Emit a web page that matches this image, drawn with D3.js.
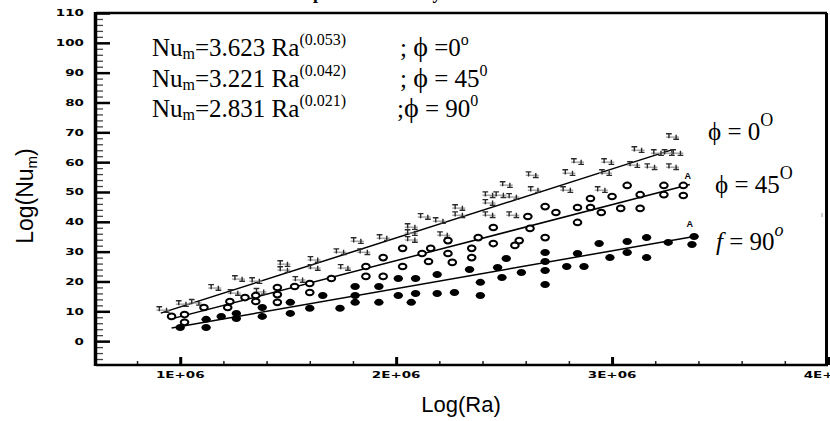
<!DOCTYPE html>
<html>
<head>
<meta charset="utf-8">
<script src="https://cdn.jsdelivr.net/npm/d3@7"></script>
<style>
  body { margin: 0; background: #fff; }
  svg { display: block; }
</style>
</head>
<body>
<div id="chart"></div>
<script>
// ********** Nu vs Ra scatter **********

// Ra values in millions, Nu values
const raPhi0 = [0.92, 1.01, 1.07, 1.16, 1.25, 1.27, 1.35, 1.37, 1.48, 1.48, 1.55, 1.62, 1.62, 1.74, 1.76, 1.82, 1.85, 1.94,
	2.07, 2.07, 2.07, 2.13, 2.20, 2.22, 2.29, 2.29, 2.43, 2.43, 2.43, 2.48, 2.51, 2.54, 2.54, 2.63, 2.64, 2.79, 2.80, 2.84,
	2.95, 2.97, 2.98, 3.10, 3.12, 3.18, 3.21, 3.26, 3.28, 3.28, 3.30];
const nuPhi0 = [10.6, 12.6, 13.0, 18.0, 16.3, 21.0, 20.3, 16.7, 26.0, 24.0, 20.7, 27.4, 24.7, 30.0, 24.7, 33.7, 30.0, 34.7,
	38.4, 36.4, 34.1, 41.8, 40.4, 35.7, 44.8, 42.4, 49.1, 46.5, 42.4, 49.1, 52.5, 48.5, 42.4, 55.8, 50.8, 50.8, 56.5, 60.2,
	50.8, 56.5, 60.2, 59.2, 64.2, 58.5, 63.2, 63.2, 68.6, 58.5, 63.2];

const raPhi45 = [0.96, 1.02, 1.02, 1.11, 1.22, 1.23, 1.30, 1.35, 1.35, 1.45, 1.45, 1.45, 1.53, 1.60, 1.60, 1.70, 1.86, 1.86,
	1.94, 1.94, 2.03, 2.03, 2.12, 2.15, 2.16, 2.24, 2.24, 2.26, 2.35, 2.35, 2.38, 2.45, 2.45, 2.55, 2.57, 2.61, 2.62, 2.69,
	2.69, 2.74, 2.84, 2.84, 2.90, 2.90, 2.95, 3.00, 3.04, 3.07, 3.13, 3.13, 3.24, 3.24, 3.33, 3.33];
const nuPhi45 = [8.3, 8.9, 6.3, 11.3, 11.3, 13.3, 14.6, 15.3, 13.3, 18.0, 15.6, 13.0, 18.3, 19.3, 16.3, 21.0, 25.0, 21.7,
	28.0, 21.7, 31.1, 25.0, 29.4, 26.7, 31.1, 29.4, 33.7, 26.4, 31.1, 28.0, 34.7, 38.1, 32.7, 32.1, 33.7, 41.8, 37.8, 45.1,
	34.7, 43.1, 44.8, 39.8, 47.8, 44.8, 43.1, 48.5, 44.5, 52.2, 49.1, 44.5, 52.2, 49.1, 52.2, 48.8];

const raPhi90 = [1.00, 1.12, 1.12, 1.19, 1.26, 1.26, 1.38, 1.38, 1.51, 1.51, 1.60, 1.66, 1.74, 1.81, 1.81, 1.81, 1.92, 1.92,
	2.01, 2.01, 2.09, 2.09, 2.07, 2.19, 2.19, 2.27, 2.34, 2.39, 2.39, 2.47, 2.49, 2.51, 2.58, 2.69, 2.69, 2.69, 2.69, 2.79,
	2.84, 2.87, 2.94, 2.99, 3.07, 3.07, 3.16, 3.16, 3.26, 3.38, 3.37];
const nuPhi90 = [4.6, 7.3, 4.6, 8.3, 9.3, 7.6, 11.3, 8.3, 13.0, 9.3, 11.0, 15.3, 11.0, 18.3, 15.3, 13.0, 18.3, 13.0,
	21.0, 15.3, 21.0, 16.0, 13.0, 22.3, 16.0, 16.3, 24.0, 19.7, 15.3, 24.7, 21.3, 27.7, 23.0, 29.7, 26.7, 23.7, 19.0, 25.0,
	29.4, 25.0, 32.7, 28.0, 33.4, 29.7, 34.7, 28.0, 33.1, 35.1, 32.4];

// Fitted lines: [start, end] per angle
const fitRa = [[0.91, 3.28], [0.95, 3.36], [0.96, 3.38]];
const fitNu = [[9.4, 64.2], [7.3, 52.5], [4.4, 35.1]];

// Small "A" markers next to the line ends
const markRa = [3.35, 3.36];
const markNu = [55.2, 39.4];

// Axis ticks
const xMajor = [1, 2, 3, 4];
const xLabels = ['1E+06', '2E+06', '3E+06', '4E+06'];
const yMajor = [0, 10, 20, 30, 40, 50, 60, 70, 80, 90, 100, 110];

// Equations and curve labels
const equations = [
	{ coef: '3.623', pow: '(0.053)', angle: '0', deg: 'o', gap: '=' },
	{ coef: '3.221', pow: '(0.042)', angle: '45', deg: '0', gap: '= ' },
	{ coef: '2.831', pow: '(0.021)', angle: '90', deg: '0', gap: '= ' }
];

const width = 830, height = 421;
const plot = { left: 96, right: 828, top: 13, bottom: 365 };
const serif = '"Liberation Serif", "Times New Roman", serif';
const sans = '"Liberation Sans", Arial, sans-serif';
const tickFont = '"DejaVu Sans", sans-serif';

const svg = d3.select('#chart')
	.append('svg')
	.attr('width', width)
	.attr('height', height);

const x = d3.scaleLinear().domain([0.61e6, 4.0e6]).range([plot.left, plot.right]);
const y = d3.scaleLinear().domain([-8, 110]).range([plot.bottom, plot.top]);

// Title, clipped by the top of the page
svg.append('text')
	.attr('x', 276)
	.attr('y', -1.5)
	.attr('font-family', serif)
	.attr('font-weight', 'bold')
	.attr('font-size', 18)
	.text('Comparison of Nu by Ra');

// Minor ticks
const xMinor = d3.range(0.8, 4.0, 0.2).filter(v => Math.abs(v - Math.round(v)) > 0.01);
svg.append('g')
	.attr('transform', `translate(0, ${plot.bottom})`)
	.call(d3.axisTop(x).tickValues(xMinor.map(v => v * 1e6)).tickSize(4).tickFormat(''))
	.call(g => g.select('.domain').remove())
	.call(g => g.selectAll('line').attr('stroke', '#222').attr('stroke-width', 1.5));

const yMinor = d3.range(-6, 110, 2).filter(v => v % 10 !== 0);
svg.append('g')
	.attr('transform', `translate(${plot.left}, 0)`)
	.call(d3.axisRight(y).tickValues(yMinor).tickSize(7).tickFormat(''))
	.call(g => g.select('.domain').remove())
	.call(g => g.selectAll('line').attr('stroke', '#444').attr('stroke-width', 1.3));

// Major ticks
svg.append('g')
	.attr('transform', `translate(0, ${plot.bottom})`)
	.call(d3.axisTop(x).tickValues(xMajor.map(v => v * 1e6)).tickSize(8).tickFormat(''))
	.call(g => g.select('.domain').remove())
	.call(g => g.selectAll('line').attr('stroke', '#000').attr('stroke-width', 3));

svg.append('g')
	.attr('transform', `translate(${plot.left}, 0)`)
	.call(d3.axisRight(y).tickValues(yMajor).tickSize(14).tickFormat(''))
	.call(g => g.select('.domain').remove())
	.call(g => g.selectAll('line').attr('stroke', '#000').attr('stroke-width', 2.5));

// Tick labels (wide, squat bold font)
svg.append('g').selectAll('g.ylab')
	.data(yMajor)
	.enter()
	.append('g')
	.attr('class', 'ylab')
	.attr('transform', d => `translate(84, ${y(d)}) scale(1.42, 1)`)
	.append('text')
	.attr('text-anchor', 'end')
	.attr('dy', '0.36em')
	.attr('font-family', tickFont)
	.attr('font-weight', 'bold')
	.attr('font-size', 9.5)
	.text(d => d);

svg.append('g').selectAll('g.xlab')
	.data(xMajor)
	.enter()
	.append('g')
	.attr('class', 'xlab')
	.attr('transform', d => `translate(${x(d * 1e6)}, 377.5) scale(1.42, 1)`)
	.append('text')
	.attr('text-anchor', 'middle')
	.attr('font-family', tickFont)
	.attr('font-weight', 'bold')
	.attr('font-size', 9.5)
	.text((d, i) => xLabels[i]);

// Frame
const frame = svg.append('g').attr('stroke', '#000').attr('fill', 'none');
frame.append('line').attr('x1', plot.left).attr('x2', 827).attr('y1', plot.top).attr('y2', plot.top).attr('stroke-width', 2.5);
frame.append('line').attr('x1', 826.5).attr('x2', 826.5).attr('y1', plot.top).attr('y2', plot.bottom).attr('stroke-width', 3);
frame.append('line').attr('x1', plot.left).attr('x2', 828).attr('y1', plot.bottom).attr('y2', plot.bottom).attr('stroke-width', 2.5);
frame.append('line').attr('x1', plot.left - 0.5).attr('x2', plot.left - 0.5).attr('y1', plot.top - 1).attr('y2', plot.bottom + 1).attr('stroke-width', 3.5);

// Axis titles
svg.append('text')
	.attr('x', 461)
	.attr('y', 412)
	.attr('text-anchor', 'middle')
	.attr('font-family', sans)
	.attr('font-size', 22)
	.text('Log(Ra)');

const ylab = svg.append('text')
	.attr('transform', 'translate(33, 196) rotate(-90)')
	.attr('text-anchor', 'middle')
	.attr('font-family', sans)
	.attr('font-size', 23);
ylab.append('tspan').text('Log(Nu');
ylab.append('tspan').attr('font-size', 15).attr('dy', 4).text('m');
ylab.append('tspan').attr('dy', -4).text(')');

// Fitted lines
const fits = fitRa.map((r, i) => [[r[0], fitNu[i][0]], [r[1], fitNu[i][1]]]);
svg.append('g').selectAll('line.fit')
	.data(fits)
	.enter()
	.append('line')
	.attr('class', 'fit')
	.attr('x1', d => x(d[0][0] * 1e6))
	.attr('y1', d => y(d[0][1]))
	.attr('x2', d => x(d[1][0] * 1e6))
	.attr('y2', d => y(d[1][1]))
	.attr('stroke', '#000')
	.attr('stroke-width', 1.5);

// phi = 0 : "T⊥" shaped symbols
const sym0 = 'M-6.5,-2.8H-0.8M-3.6,-2.8V1.8M0.8,2.8H6.5M3.6,2.8V-1.8';
const pts0 = raPhi0.map((r, i) => ({ ra: r, nu: nuPhi0[i] }));
const g0 = svg.append('g').selectAll('g.p0')
	.data(pts0)
	.enter()
	.append('g')
	.attr('class', 'p0')
	.attr('transform', d => `translate(${x(d.ra * 1e6)}, ${y(d.nu)})`);
g0.append('path')
	.attr('d', 'M-6.5,0.6H6.5')
	.attr('stroke', '#999')
	.attr('stroke-width', 1.3);
g0.append('path')
	.attr('d', sym0)
	.attr('stroke', '#2a2a2a')
	.attr('stroke-width', 1.4)
	.attr('fill', 'none');

// phi = 45 : open circles
const pts45 = raPhi45.map((r, i) => ({ ra: r, nu: nuPhi45[i] }));
svg.append('g').selectAll('ellipse.p45')
	.data(pts45)
	.enter()
	.append('ellipse')
	.attr('class', 'p45')
	.attr('cx', d => x(d.ra * 1e6))
	.attr('cy', d => y(d.nu))
	.attr('rx', 3.8)
	.attr('ry', 2.8)
	.attr('fill', '#fff')
	.attr('stroke', '#000')
	.attr('stroke-width', 2);

// phi = 90 : filled circles
const pts90 = raPhi90.map((r, i) => ({ ra: r, nu: nuPhi90[i] }));
svg.append('g').selectAll('ellipse.p90')
	.data(pts90)
	.enter()
	.append('ellipse')
	.attr('class', 'p90')
	.attr('cx', d => x(d.ra * 1e6))
	.attr('cy', d => y(d.nu))
	.attr('rx', 4.7)
	.attr('ry', 3.5)
	.attr('fill', '#000');

svg.append('g').selectAll('text.mark')
	.data(markRa)
	.enter()
	.append('text')
	.attr('class', 'mark')
	.attr('x', d => x(d * 1e6))
	.attr('y', (d, i) => y(markNu[i]) + 3)
	.attr('text-anchor', 'middle')
	.attr('font-family', sans)
	.attr('font-weight', 'bold')
	.attr('font-size', 9)
	.text('A');

// tiny stray mark on the right
svg.append('line')
	.attr('x1', 822).attr('x2', 822).attr('y1', 213).attr('y2', 217)
	.attr('stroke', '#999').attr('stroke-width', 1);

// Equations block
const eq = svg.append('g')
	.selectAll('g.eq')
	.data(equations)
	.enter()
	.append('g')
	.attr('class', 'eq')
	.attr('transform', (d, i) => `translate(0, ${56 + i * 30.5})`)
	.attr('font-family', serif);

const eqText = eq.append('text')
	.attr('x', 152)
	.attr('font-size', 25);
eqText.append('tspan').text('Nu');
eqText.append('tspan').attr('font-size', 16).attr('dy', 3).text('m');
eqText.append('tspan').attr('dy', -3).text(d => `=${d.coef} Ra`);
eqText.append('tspan').attr('font-size', 16).attr('dy', -11).text(d => d.pow);

const phiText = eq.append('text')
	.attr('x', (d, i) => i === 2 ? 397 : 400)
	.attr('font-size', 25);
phiText.append('tspan').text((d, i) => i === 2 ? ';' : '; ');
phiText.append('tspan').attr('font-size', 28).text('ϕ');
phiText.append('tspan').text(d => ` ${d.gap}${d.angle}`);
phiText.append('tspan').attr('font-size', 16).attr('dy', -11).text(d => d.deg);

// Curve labels on the right
const curveLabels = [
	{ sym: 'ϕ', angle: '0', x: 708, y: 140, italic: false },
	{ sym: 'ϕ', angle: '45', x: 715, y: 193, italic: false },
	{ sym: 'f', angle: '90', x: 716, y: 250, italic: true }
];
const cl = svg.append('g').selectAll('text.cl')
	.data(curveLabels)
	.enter()
	.append('text')
	.attr('class', 'cl')
	.attr('x', d => d.x)
	.attr('y', d => d.y)
	.attr('font-family', serif)
	.attr('font-size', 25);
cl.append('tspan')
	.attr('font-style', d => d.italic ? 'italic' : 'normal')
	.text(d => d.sym);
cl.append('tspan').text(d => ` = ${d.angle}`);
cl.append('tspan')
	.attr('font-size', 18)
	.attr('dy', -14)
	.attr('font-style', d => d.italic ? 'italic' : 'normal')
	.text(d => d.italic ? 'o' : 'O');
</script>
</body>
</html>
